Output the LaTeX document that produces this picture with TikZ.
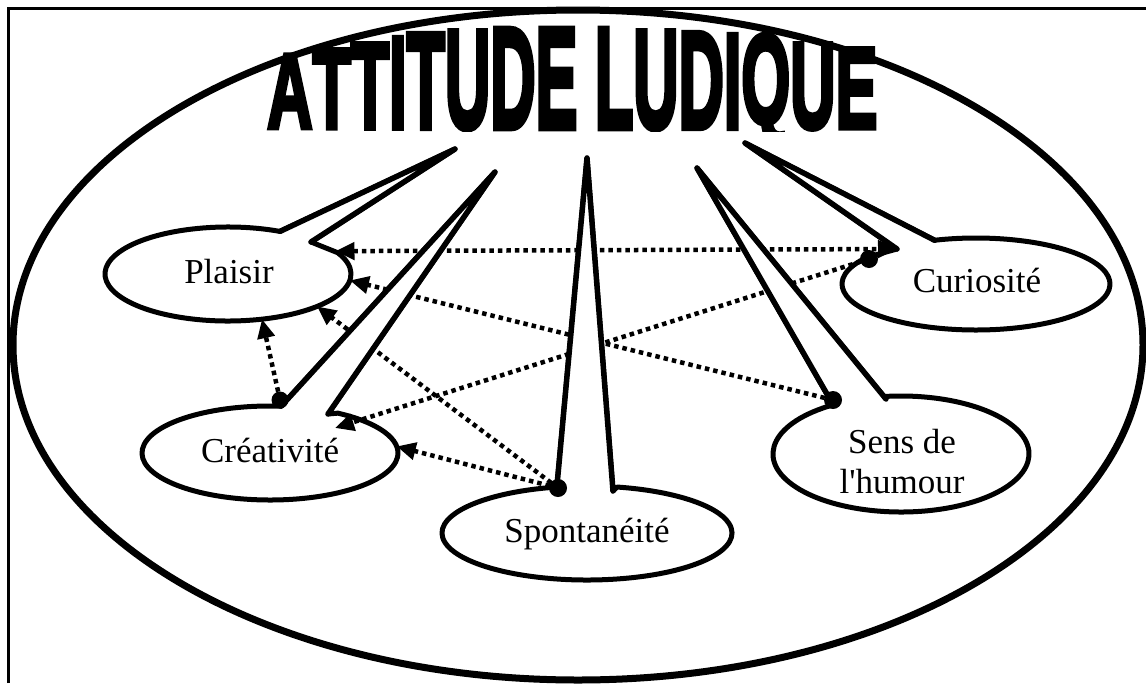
\documentclass[tikz,border=0pt]{standalone}
\usepackage{fontspec}
\usepackage{graphicx}
\usetikzlibrary{arrows.meta,calc,shapes.geometric}
\newfontfamily\labelfont{Liberation Serif}
\newfontfamily\titlefont{Liberation Sans}[BoldFeatures={FakeBold=4.5}]
\newcommand\archlet[2]{\scalebox{1}[#1]{#2}}

\begin{document}
\begin{tikzpicture}[x=1pt,y=-1pt,
  oval/.style={ellipse, draw=none, inner sep=0pt, outer sep=0pt},
  callout/.style={fill=white, draw=black, line width=5pt, line join=round},
  wedgeline/.style={draw=black, line width=5.5pt, line join=round, line cap=round},
  ovaltext/.style={font=\labelfont\fontsize{35}{42}\selectfont, inner sep=0pt, anchor=base},
  linkarrow/.style={line width=4.5pt, dash pattern=on 4.5pt off 4pt, -{Triangle[length=19pt,width=17pt]}},
  hubdot/.style={fill=black}
]
\useasboundingbox (0,0) rectangle (1146,683);

% frame
\draw[line width=2.2pt] (8.5,683) -- (8.5,8.5) -- (1146,8.5);

% outer ellipse
\draw[line width=7pt] (578,345) ellipse[x radius=565, y radius=335];

% title, arched letter heights, cut just under the common baseline
\begin{scope}
\clip (0,0) rectangle (1146,131);
\node[anchor=base west, inner sep=0pt] (title) at (267,128)
  {\resizebox{610pt}{99pt}{\titlefont\bfseries
   \archlet{0.74}{A}\archlet{0.79}{T}\archlet{0.85}{T}\archlet{0.91}{I}%
   \archlet{0.95}{T}\archlet{0.975}{U}\archlet{1}{D}\archlet{1}{E}\ %
   \archlet{1}{L}\archlet{0.975}{U}\archlet{0.96}{D}\archlet{0.94}{I}%
   \archlet{0.88}{\raisebox{0.04em}{Q}}\archlet{0.85}{U}\archlet{0.8}{E}}};
\end{scope}

% ovals
\node[oval, minimum width=246pt, minimum height=94pt]  (P) at (228,274) {};
\node[oval, minimum width=256pt, minimum height=94pt]  (C) at (270,453) {};
\node[oval, minimum width=290pt, minimum height=94pt]  (S) at (587,533) {};
\node[oval, minimum width=268pt, minimum height=92pt]  (Q) at (976,284) {};
\node[oval, minimum width=256pt, minimum height=116pt] (H) at (901,454) {};

% callout tails: tip, base points on the oval, notch
\coordinate (P-tip) at (455,149);
\coordinate (P-a) at ($(P.center)+(295:123 and 47)$);
\coordinate (P-n) at (311,242);
\coordinate (C-tip) at (495,172);
\coordinate (C-a) at ($(C.center)+(275:128 and 47)$);
\coordinate (C-n) at (328,414);
\coordinate (S-tip) at (587,158);
\coordinate (S-a) at ($(S.center)+(258:145 and 47)$);
\coordinate (S-n) at (613,491);
\coordinate (H-tip) at (697,168);
\coordinate (H-a) at ($(H.center)+(238:128 and 58)$);
\coordinate (H-n) at (886,399);
\coordinate (Q-tip) at (745,143);
\coordinate (Q-a) at ($(Q.center)+(215.5:134 and 46)$);
\coordinate (Q-c) at ($(Q.center)+(-108:134 and 46)$);
\coordinate (Q-n) at (897,249);

% callout outlines
\draw[callout] (P-tip) -- (P-a) arc[start angle=295, end angle=-27, x radius=123, y radius=47] -- (P-n) -- cycle;
\draw[callout] (C-tip) -- (C-a) arc[start angle=275, end angle=-58, x radius=128, y radius=47] -- (C-n) -- cycle;
\draw[callout] (S-tip) -- (S-a) arc[start angle=258, end angle=-78, x radius=145, y radius=47] -- (S-n) -- cycle;
\draw[callout] (H-tip) -- (H-a) arc[start angle=238, end angle=-97, x radius=128, y radius=58] -- (H-n) -- cycle;
\draw[callout] (Q-tip) -- (Q-n) -- (Q-a) arc[start angle=215.5, end angle=-108, x radius=134, y radius=46] -- cycle;

% connector end points
\coordinate (dC) at (280,400);
\coordinate (dS) at (558,488);
\coordinate (dH) at (833,400);
\coordinate (dQ) at (869,259);
\coordinate (C-in) at (335,428);

% dotted connectors
\draw[linkarrow, {Triangle[length=19pt,width=17pt]}-{Triangle[length=19pt,width=17pt]}] (P.12) -- (Q-n);
\draw[linkarrow] (dH) -- (P.-3);
\draw[linkarrow] (dQ) -- (C-in);
\draw[linkarrow] (dS) -- (P.-20);
\draw[linkarrow] (dS) -- (C.3);
\draw[linkarrow] (dC) -- (P.-53);

% tails drawn over the connectors
\fill[white] (P-tip) -- (P-a) -- (P-n) -- cycle;
\draw[wedgeline] (P-a) -- (P-tip) -- (P-n);
\fill[white] (C-tip) -- (C-a) -- (C-n) -- cycle;
\draw[wedgeline] (C-a) -- (C-tip) -- (C-n);
\fill[white] (S-tip) -- (S-a) -- (S-n) -- cycle;
\draw[wedgeline] (S-a) -- (S-tip) -- (S-n);
\fill[white] (H-tip) -- (H-a) -- (H-n) -- cycle;
\draw[wedgeline] (H-a) -- (H-tip) -- (H-n);
\fill[white] (Q-tip) -- (Q-n) -- (Q-c) -- cycle;
\draw[wedgeline] (Q-n) -- (Q-tip) -- (Q-c);

% start dots
\fill[hubdot] (dC) circle[radius=8.5pt];
\fill[hubdot] (dS) circle[radius=9pt];
\fill[hubdot] (dH) circle[radius=9pt];
\fill[hubdot] (dQ) circle[radius=9pt];

% labels
\node[ovaltext] (Pt) at (229,283) {Plaisir};
\node[ovaltext] (Ct) at (270,462) {Créativité};
\node[ovaltext] (St) at (587,542) {Spontanéité};
\node[ovaltext] (Qt) at (977,292) {Curiosité};
\node[ovaltext] (Ht1) at (902,453) {Sens de};
\node[ovaltext] (Ht2) at (902,493) {l\textquotesingle humour};
\end{tikzpicture}
\end{document}
